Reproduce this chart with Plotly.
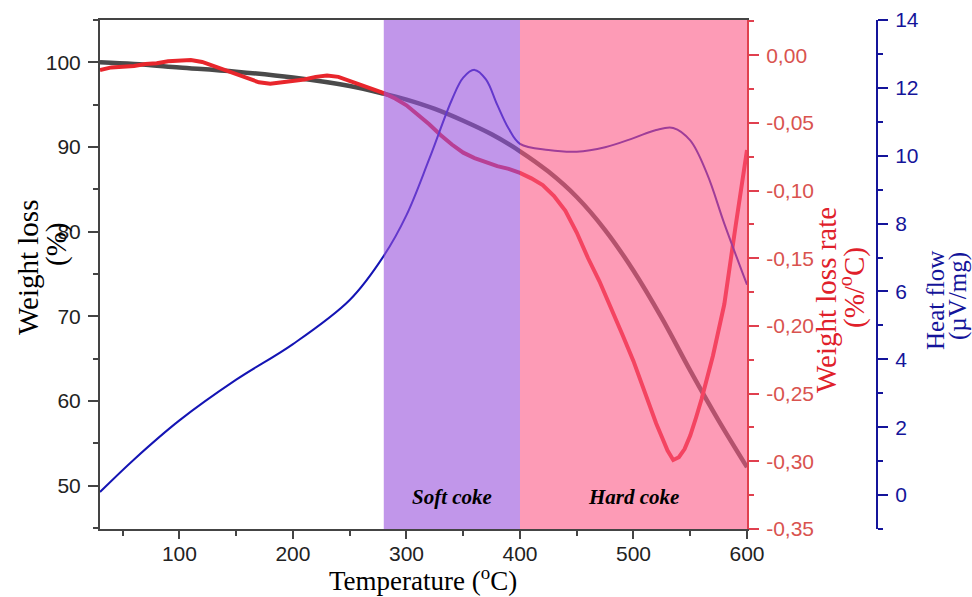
import plotly.graph_objects as go

# ---------------- data ----------------
temp_tg = [30, 60, 100, 150, 200, 250, 280, 300, 325, 350, 375, 400, 425, 450, 475, 500, 525, 550, 575, 600]
weight_loss = [100.0, 99.8, 99.4, 98.9, 98.2, 97.2, 96.3, 95.6, 94.5, 93.1, 91.5, 89.5, 87.1, 84.1, 80.2, 75.4, 69.8, 63.6, 57.7, 52.2]

temp_dtg = [30, 40, 50, 60, 70, 80, 90, 100, 110, 120, 130, 140, 150, 160, 170, 180, 190,
            200, 210, 220, 230, 240, 250, 260, 270, 280, 290, 300, 310, 320, 330, 340, 350,
            360, 370, 380, 390, 400, 410, 420, 430, 440, 450, 460, 470, 480, 490, 500, 510,
            520, 525, 530, 535, 540, 545, 550, 555, 560, 570, 580, 590, 595, 600]
weight_loss_rate = [-0.011, -0.009, -0.0085, -0.008, -0.0065, -0.006, -0.0045, -0.004, -0.0035,
                    -0.005, -0.008, -0.011, -0.014, -0.017, -0.020, -0.021, -0.020, -0.019,
                    -0.018, -0.016, -0.015, -0.016, -0.019, -0.022, -0.025, -0.028, -0.032,
                    -0.037, -0.044, -0.051, -0.059, -0.066, -0.072, -0.076, -0.079, -0.082,
                    -0.084, -0.087, -0.091, -0.096, -0.104, -0.115, -0.131, -0.150, -0.167,
                    -0.186, -0.206, -0.226, -0.250, -0.272, -0.282, -0.292, -0.299, -0.297,
                    -0.291, -0.281, -0.268, -0.254, -0.222, -0.184, -0.126, -0.100, -0.070]

temp_hf = [30, 60, 100, 150, 200, 250, 280, 300, 320, 340, 350, 360, 370, 380, 390, 400,
           425, 450, 475, 500, 520, 535, 550, 565, 580, 600]
heat_flow = [0.09, 1.05, 2.2, 3.4, 4.45, 5.75, 7.05, 8.25, 9.9, 11.65, 12.3, 12.53, 12.25,
             11.5, 10.8, 10.35, 10.17, 10.12, 10.25, 10.52, 10.76, 10.82, 10.45, 9.45, 8.0, 6.2]

x_tick_vals = [100, 200, 300, 400, 500, 600]
y_tick_vals = [50, 60, 70, 80, 90, 100]
rate_tick_vals = [0.0, -0.05, -0.10, -0.15, -0.20, -0.25, -0.30, -0.35]
rate_tick_text = ["0,00", "-0,05", "-0,10", "-0,15", "-0,20", "-0,25", "-0,30", "-0,35"]
heat_tick_vals = [0, 2, 4, 6, 8, 10, 12, 14]

regions = [("Soft coke", 280, 400, "rgb(152,80,220)"), ("Hard coke", 400, 600, "rgb(252,89,134)")]

# ---------------- styles ----------------
SANS = "Liberation Sans, Arial, sans-serif"
SERIF = "Liberation Serif, Times New Roman, serif"
GRAY = "#444444"
RED = "#e0404f"
RED_TXT = "#d9534f"
BLUE = "#14149a"
TICK = 21
TITLE = 29

fig = go.Figure()
fig.add_trace(go.Scatter(x=temp_tg, y=weight_loss, mode="lines", yaxis="y",
                         line=dict(color="#4a4a4a", width=4.5, shape="spline"), showlegend=False))
fig.add_trace(go.Scatter(x=temp_dtg, y=weight_loss_rate, mode="lines", yaxis="y2",
                         line=dict(color="#e8262c", width=4), showlegend=False))
fig.add_trace(go.Scatter(x=temp_hf, y=heat_flow, mode="lines", yaxis="y3",
                         line=dict(color="#1414b4", width=2, shape="spline"), showlegend=False))

for name, x0, x1, col in regions:
    fig.add_shape(type="rect", xref="x", yref="paper", x0=x0, x1=x1, y0=0, y1=1,
                  fillcolor=col, opacity=0.6, line=dict(width=0), layer="above")
    fig.add_annotation(x=(x0 + x1) / 2, xref="x", y=0.035, yref="paper", text=f"<b><i>{name}</i></b>",
                       showarrow=False, font=dict(family=SERIF, size=21, color="black"))

xdom = 647 / 777
common = dict(showgrid=False, zeroline=False, showline=True, linewidth=2,
              ticks="outside", tickwidth=2, automargin=False)
fig.update_layout(
    width=972, height=597,
    margin=dict(l=100, r=95, t=20, b=68, autoexpand=False),
    paper_bgcolor="white", plot_bgcolor="white",
    xaxis=dict(domain=[0, xdom], range=[30, 600], tickvals=x_tick_vals, mirror=True,
               linecolor=GRAY, tickcolor=GRAY, ticklabelstandoff=-3, ticklen=8,
               tickfont=dict(family=SANS, size=TICK, color="#222"),
               minor=dict(ticks="outside", ticklen=5, tickwidth=2, tickcolor=GRAY, dtick=50, tick0=0),
               **common),
    yaxis=dict(range=[44.9, 105.0], tickvals=y_tick_vals, linecolor=GRAY, tickcolor=GRAY,
               ticklabelstandoff=3, ticklen=10,
               tickfont=dict(family=SANS, size=TICK, color="#222"),
               minor=dict(ticks="outside", ticklen=5, tickwidth=2, tickcolor=GRAY, dtick=5, tick0=0),
               **common),
    yaxis2=dict(overlaying="y", side="right", anchor="x", range=[-0.35, 0.026],
                tickvals=rate_tick_vals, ticktext=rate_tick_text, linecolor=RED, tickcolor=RED,
                ticklabelstandoff=3, ticklen=10,
                tickfont=dict(family=SANS, size=TICK, color=RED_TXT),
                minor=dict(ticks="outside", ticklen=5, tickwidth=2, tickcolor=RED, dtick=0.025, tick0=0),
                **common),
    yaxis3=dict(overlaying="y", side="right", anchor="free", position=1.0, range=[-1, 14],
                tickvals=heat_tick_vals, linecolor=BLUE, tickcolor=BLUE,
                ticklabelstandoff=3, ticklen=10,
                tickfont=dict(family=SANS, size=TICK, color=BLUE),
                minor=dict(ticks="outside", ticklen=5, tickwidth=2, tickcolor=BLUE, dtick=1, tick0=0),
                **common),
)

def px_to_paper_x(px):
    return (px - 100) / 777

def px_to_paper_y(py):
    return (529 - py) / 509

titles = [
    ("Weight loss", 28, 268, "black", TITLE),
    ("(%)", 56, 245, "black", TITLE),
    ("Weight loss rate", 826, 300, "#e0202a", TITLE),
    ("(%/<sup>o</sup>C)", 852, 288, "#e0202a", TITLE),
    ("Heat flow", 936, 300, BLUE, 25),
    ("(\u00b5V/mg)", 958, 296, BLUE, 25),
]
for text, px, py, col, fs in titles:
    fig.add_annotation(x=px_to_paper_x(px), y=px_to_paper_y(py), xref="paper", yref="paper",
                       text=text, textangle=-90, showarrow=False, xanchor="center", yanchor="middle",
                       font=dict(family=SERIF, size=fs, color=col))

fig.add_annotation(x=px_to_paper_x(423), y=px_to_paper_y(579), xref="paper", yref="paper",
                   text="Temperature (<sup>o</sup>C)", showarrow=False, xanchor="center", yanchor="middle",
                   font=dict(family=SERIF, size=27, color="black"))

fig.write_html("out.html", config={"displayModeBar": False},
               post_script="document.body.style.margin='0';document.body.style.overflow='hidden';")
